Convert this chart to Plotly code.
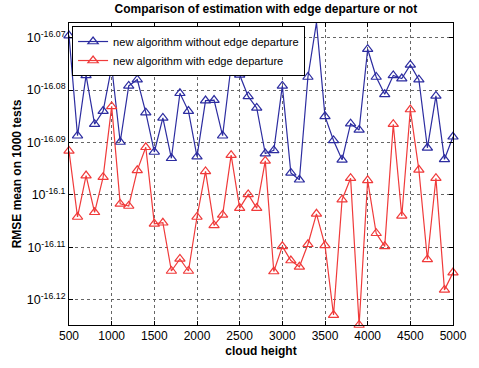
import plotly.graph_objects as go

cloud_height = list(range(500, 5001, 100))

# log10 of RMSE mean values
blue_exp = [-16.0696, -16.0887, -16.0772, -16.0865, -16.0840, -16.0755, -16.0899, -16.0792,
            -16.0780, -16.0843, -16.0918, -16.0853, -16.0930, -16.0806, -16.0840, -16.0927,
            -16.0820, -16.0819, -16.0887, -16.0753, -16.0771, -16.0812, -16.0834, -16.0921,
            -16.0915, -16.0792, -16.0958, -16.0971, -16.0775, -16.0671, -16.0850, -16.0896,
            -16.0933, -16.0864, -16.0876, -16.0722, -16.0775, -16.0808, -16.0772, -16.0778,
            -16.0752, -16.0780, -16.0910, -16.0811, -16.0932, -16.0889]
red_exp = [-16.0916, -16.1042, -16.0963, -16.1033, -16.0966, -16.0831, -16.1017, -16.1021,
           -16.0953, -16.0909, -16.1055, -16.1053, -16.1145, -16.1122, -16.1145, -16.1042,
           -16.0955, -16.1058, -16.1038, -16.0924, -16.1025, -16.0999, -16.1025, -16.0935,
           -16.1146, -16.1098, -16.1125, -16.1137, -16.1094, -16.1036, -16.1096, -16.1229,
           -16.1009, -16.0968, -16.1248, -16.0972, -16.1073, -16.1098, -16.0865, -16.1040,
           -16.0837, -16.0952, -16.1123, -16.0968, -16.1181, -16.1148]

y_tick_exp = [-16.07, -16.08, -16.09, -16.1, -16.11, -16.12]
y_tick_text = ["10<sup>-16.07</sup>", "10<sup>-16.08</sup>", "10<sup>-16.09</sup>",
               "10<sup>-16.1</sup>", "10<sup>-16.11</sup>", "10<sup>-16.12</sup>"]
x_ticks = list(range(500, 5001, 500))

blue_vals = [10 ** e for e in blue_exp]
red_vals = [10 ** e for e in red_exp]

fig = go.Figure()
fig.add_trace(go.Scatter(
    x=cloud_height, y=blue_vals, mode="lines+markers",
    name="new algorithm without edge departure",
    line=dict(color="#2c2ca0", width=1.2),
    marker=dict(symbol="triangle-up-open", size=9, color="#2c2ca0", line=dict(width=1.2)),
    cliponaxis=False))
fig.add_trace(go.Scatter(
    x=cloud_height, y=red_vals, mode="lines+markers",
    name="new algorithm with edge departure",
    line=dict(color="#f03a3a", width=1.2),
    marker=dict(symbol="triangle-up-open", size=9, color="#f03a3a", line=dict(width=1.2)),
    cliponaxis=False))

font_family = "Liberation Sans, Arial, sans-serif"
fig.update_layout(
    width=479, height=368,
    margin=dict(l=69, r=16, t=23, b=36),
    paper_bgcolor="white", plot_bgcolor="white",
    font=dict(family=font_family, size=12, color="black"),
    title=dict(text="<b>Comparison of estimation with edge departure or not</b>",
               x=0.555, xanchor="center", y=0.975, yanchor="middle",
               font=dict(size=12)),
    showlegend=True,
    legend=dict(x=0.008, y=0.99, xanchor="left", yanchor="top",
                bgcolor="white", bordercolor="black", borderwidth=1,
                font=dict(size=11.1), tracegroupgap=0,
                itemwidth=30),
)
fig.update_xaxes(
    range=[500, 5000], tickvals=x_ticks, ticks="inside", ticklen=4,
    tickcolor="black", showline=True, linecolor="black", linewidth=1, mirror="allticks",
    showgrid=True, gridcolor="#666666", griddash="dot", gridwidth=1,
    zeroline=False, tickfont=dict(size=12),
    title=dict(text="<b>cloud height</b>", font=dict(size=12), standoff=4))
fig.update_yaxes(
    type="log", range=[-16.1248, -16.0672],
    tickvals=[10 ** e for e in y_tick_exp], ticktext=y_tick_text,
    ticks="inside", ticklen=4, tickcolor="black",
    showline=True, linecolor="black", linewidth=1, mirror="allticks",
    showgrid=True, gridcolor="#666666", griddash="dot", gridwidth=1,
    zeroline=False, tickfont=dict(size=12.5),
    title=dict(text="<b>RMSE mean on 1000 tests</b>", font=dict(size=12), standoff=2))

fig.write_html("out.html")
